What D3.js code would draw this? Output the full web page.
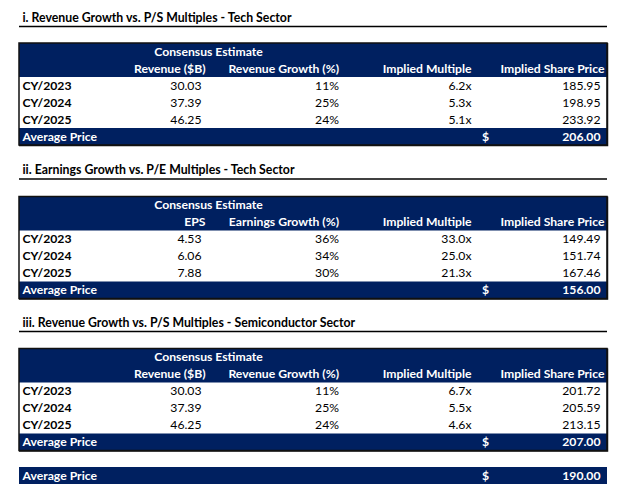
<!DOCTYPE html>
<html>
<head>
<meta charset="utf-8">
<script src="https://cdn.jsdelivr.net/npm/d3@7"></script>
<style>
  html, body { margin: 0; padding: 0; background: #fff; }
  svg { display: block; }
  text { font-family: Lato, "Open Sans", sans-serif; }
</style>
</head>
<body>
<svg id="chart" width="640" height="499"></svg>
<script>
// ---------------- DATA ----------------
const years = ["CY/2023", "CY/2024", "CY/2025"];

const sectionTitles = [
  "i. Revenue Growth vs. P/S Multiples - Tech Sector",
  "ii. Earnings Growth vs. P/E Multiples - Tech Sector",
  "iii. Revenue Growth vs. P/S Multiples - Semiconductor Sector"
];

const headerTop = "Consensus Estimate";
const headers1 = ["Revenue ($B)", "Revenue Growth (%)", "Implied Multiple", "Implied Share Price"];
const headers2 = ["EPS", "Earnings Growth (%)", "Implied Multiple", "Implied Share Price"];
const headers3 = ["Revenue ($B)", "Revenue Growth (%)", "Implied Multiple", "Implied Share Price"];

const techRevenue = [30.03, 37.39, 46.25];
const techRevenueGrowth = [11, 25, 24];
const techPSMultiple = [6.2, 5.3, 5.1];
const techPSPrice = [185.95, 198.95, 233.92];
const techPSAverage = 206.00;

const techEPS = [4.53, 6.06, 7.88];
const techEarningsGrowth = [36, 34, 30];
const techPEMultiple = [33.0, 25.0, 21.3];
const techPEPrice = [149.49, 151.74, 167.46];
const techPEAverage = 156.00;

const semiRevenue = [30.03, 37.39, 46.25];
const semiRevenueGrowth = [11, 25, 24];
const semiPSMultiple = [6.7, 5.5, 4.6];
const semiPSPrice = [201.72, 205.59, 213.15];
const semiPSAverage = 207.00;

const overallAverage = 190.00;
const averageLabel = "Average Price";

// ---------------- LAYOUT ----------------
const W = 640, H = 499;
const navy = "#002060";
const left = 19, right = 607;
const rowH = 17;
const fontSize = 12.2;
const titleSize = 12.3;

const fmt2 = d3.format(".2f");
const fmt1x = d => d3.format(".1f")(d) + "x";
const fmtPct = d => d + "%";

const tables = [
  { title: sectionTitles[0], underline: 26.5, top: 43, headers: headers1,
    cols: [techRevenue, techRevenueGrowth, techPSMultiple, techPSPrice], avg: techPSAverage },
  { title: sectionTitles[1], underline: 179, top: 196.5, headers: headers2,
    cols: [techEPS, techEarningsGrowth, techPEMultiple, techPEPrice], avg: techPEAverage },
  { title: sectionTitles[2], underline: 331.5, top: 348.5, headers: headers3,
    cols: [semiRevenue, semiRevenueGrowth, semiPSMultiple, semiPSPrice], avg: semiPSAverage }
];
const colFormats = [fmt2, fmtPct, fmt1x, fmt2];
const headerRight = [205.5, 339, 471.5, 604.5];
const valueRight  = [201.5, 339, 471.5, 600.5];
const labelX = 22.5;
const dollarX = 482;
const consensusCenter = 208.5;

const svg = d3.select("#chart");
svg.append("rect").attr("width", W).attr("height", H).attr("fill", "#fff");

const rowKeys = ["h1", "h2", ...years, "avg"];

tables.forEach(t => {
  const g = svg.append("g");
  g.append("text").attr("x", labelX).attr("y", t.underline - 5)
    .attr("font-size", titleSize).attr("font-weight", "bold").attr("fill", "#000")
    .text(t.title);
  g.append("line").attr("x1", left).attr("x2", right)
    .attr("y1", t.underline).attr("y2", t.underline)
    .attr("stroke", "#000").attr("stroke-width", 1.5);

  const y = d3.scaleBand().domain(rowKeys)
    .range([t.top, t.top + rowH * rowKeys.length]);

  g.append("rect").attr("x", left).attr("y", y("h1"))
    .attr("width", right - left).attr("height", y.bandwidth() * 2).attr("fill", navy);
  g.append("rect").attr("x", left).attr("y", y("avg"))
    .attr("width", right - left).attr("height", y.bandwidth()).attr("fill", navy);

  g.append("rect").attr("x", left).attr("y", t.top)
    .attr("width", right - left).attr("height", rowH * rowKeys.length)
    .attr("fill", "none").attr("stroke", "#111").attr("stroke-width", 1.5);
  // slightly heavier bottom/right edge like the reference
  g.append("path")
    .attr("d", `M${right + 0.5},${t.top} V${t.top + rowH * rowKeys.length + 0.5} H${left}`)
    .attr("fill", "none").attr("stroke", "#111").attr("stroke-width", 1.5);

  const base = k => y(k) + y.bandwidth() / 2 + 4.3;

  g.append("text").attr("x", consensusCenter).attr("y", base("h1"))
    .attr("text-anchor", "middle").attr("font-size", fontSize).attr("font-weight", "bold")
    .attr("fill", "#fff").text(headerTop);

  g.selectAll("text.hdr").data(t.headers).join("text").attr("class", "hdr")
    .attr("x", (d, i) => headerRight[i]).attr("y", base("h2"))
    .attr("text-anchor", "end").attr("font-size", fontSize).attr("font-weight", "bold")
    .attr("fill", "#fff").text(d => d);

  years.forEach((yr, r) => {
    g.append("text").attr("x", labelX).attr("y", base(yr))
      .attr("font-size", fontSize).attr("font-weight", "bold").attr("fill", "#000").text(yr);
    t.cols.forEach((col, c) => {
      g.append("text").attr("x", valueRight[c]).attr("y", base(yr))
        .attr("text-anchor", "end").attr("font-size", fontSize).attr("fill", "#000")
        .text(colFormats[c](col[r]));
    });
  });

  g.append("text").attr("x", labelX).attr("y", base("avg"))
    .attr("font-size", fontSize).attr("font-weight", "bold").attr("fill", "#fff").text(averageLabel);
  g.append("text").attr("x", dollarX).attr("y", base("avg"))
    .attr("font-size", fontSize).attr("font-weight", "bold").attr("fill", "#fff").text("$");
  g.append("text").attr("x", valueRight[3]).attr("y", base("avg"))
    .attr("text-anchor", "end").attr("font-size", fontSize).attr("font-weight", "bold")
    .attr("fill", "#fff").text(fmt2(t.avg));
});

// overall average row
const yo = d3.scaleBand().domain(["overall"]).range([467, 467 + rowH]);
const og = svg.append("g");
og.append("rect").attr("x", left).attr("y", yo("overall"))
  .attr("width", right - left).attr("height", yo.bandwidth()).attr("fill", navy);
const ob = yo("overall") + yo.bandwidth() / 2 + 4.3;
og.append("text").attr("x", labelX).attr("y", ob).attr("font-size", fontSize)
  .attr("font-weight", "bold").attr("fill", "#fff").text(averageLabel);
og.append("text").attr("x", dollarX).attr("y", ob).attr("font-size", fontSize)
  .attr("font-weight", "bold").attr("fill", "#fff").text("$");
og.append("text").attr("x", valueRight[3]).attr("y", ob).attr("text-anchor", "end")
  .attr("font-size", fontSize).attr("font-weight", "bold").attr("fill", "#fff")
  .text(fmt2(overallAverage));
</script>
</body>
</html>
